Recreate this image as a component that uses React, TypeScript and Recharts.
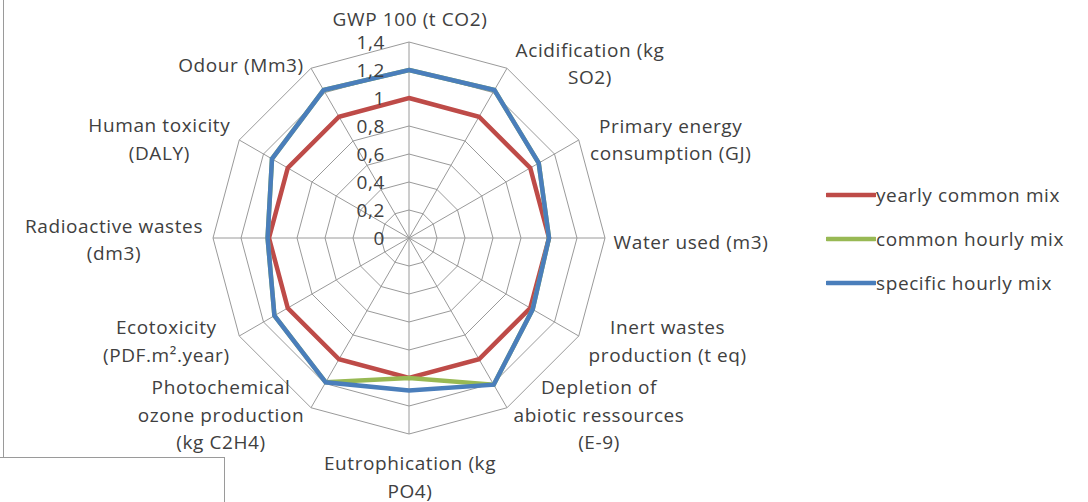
import React from 'react';
import { RadarChart, Radar, PolarGrid, PolarAngleAxis, PolarRadiusAxis, Legend } from 'recharts';

const categories = [
  'GWP 100 (t CO2)',
  'Acidification (kg\nSO2)',
  'Primary energy\nconsumption (GJ)',
  'Water used (m3)',
  'Inert wastes\nproduction (t eq)',
  'Depletion of\nabiotic ressources\n(E-9)',
  'Eutrophication (kg\nPO4)',
  'Photochemical\nozone production\n(kg C2H4)',
  'Ecotoxicity\n(PDF.m\u00b2.year)',
  'Radioactive wastes\n(dm3)',
  'Human toxicity\n(DALY)',
  'Odour (Mm3)',
];

const yearlyCommonMix = [1, 1, 1, 1, 1, 1, 1, 1, 1, 1, 1, 1];
const commonHourlyMix = [1.2, 1.22, 1.07, 1.0, 1.02, 1.21, 1.0, 1.19, 1.11, 1.01, 1.13, 1.22];
const specificHourlyMix = [1.2, 1.22, 1.07, 1.0, 1.02, 1.21, 1.09, 1.19, 1.11, 1.01, 1.13, 1.22];

const radiusTicks = [0, 0.2, 0.4, 0.6, 0.8, 1, 1.2, 1.4];
const radiusTickLabels = ['0', '0,2', '0,4', '0,6', '0,8', '1', '1,2', '1,4'];
const seriesNames = ['yearly common mix', 'common hourly mix', 'specific hourly mix'];
const seriesColors = ['#BE4B48', '#98B954', '#4A7EBB'];

const data = categories.map((c, i) => ({
  category: c,
  yearly: yearlyCommonMix[i],
  common: commonHourlyMix[i],
  specific: specificHourlyMix[i],
}));

const FONT = '"Open Sans", "DejaVu Sans", sans-serif';
const FONT_SIZE = 19;
const LETTER_SP = 0.6;
const TEXT_COLOR = '#404040';
const LINE_H = 27.5;

// label block centre offsets from the angle-axis tick point
const labelOffsets: [number, number][] = [
  [1, -15], [79, 2], [85, 3.5], [78, 4], [82, 1], [88, 0],
  [1, 35], [-86, 0], [-66, 1], [-91, 1.5], [-73, 3], [-66, 4],
];

const AngleTick = (props: any) => {
  const { x, y, payload, index } = props;
  const lines = String(payload.value).split('\n');
  const [dx, dy] = labelOffsets[index] || [0, 0];
  const cxText = x + dx;
  const top = y + dy - ((lines.length - 1) * LINE_H) / 2;
  return (
    <g>
      {lines.map((l, i) => (
        <text
          key={i}
          x={cxText}
          y={top + i * LINE_H}
          textAnchor="middle"
          dominantBaseline="central"
          fontFamily={FONT}
          fontSize={FONT_SIZE}
          letterSpacing={LETTER_SP}
          fill={TEXT_COLOR}
        >
          {l}
        </text>
      ))}
    </g>
  );
};

const RadiusTick = (props: any) => {
  const { x, y, payload } = props;
  const idx = radiusTicks.findIndex((t) => Math.abs(t - Number(payload.value)) < 1e-6);
  const label = idx >= 0 ? radiusTickLabels[idx] : String(payload.value);
  return (
    <text
      x={x - 24}
      y={y}
      textAnchor="end"
      dominantBaseline="central"
      fontFamily={FONT}
      fontSize={FONT_SIZE}
      letterSpacing={LETTER_SP}
      fill={TEXT_COLOR}
    >
      {label}
    </text>
  );
};

const LegendContent = () => (
  <div style={{ fontFamily: FONT, fontSize: FONT_SIZE, color: TEXT_COLOR, letterSpacing: LETTER_SP }}>
    {seriesNames.map((n, i) => (
      <div key={n} style={{ display: 'flex', alignItems: 'center', height: 44 }}>
        <svg width={50} height={8} style={{ display: 'block' }}>
          <line x1={1} y1={4} x2={49} y2={4} stroke={seriesColors[i]} strokeWidth={4.5} strokeLinecap="round" />
        </svg>
        <span style={{ whiteSpace: 'nowrap' }}>{n}</span>
      </div>
    ))}
  </div>
);

export default function App() {
  return (
    <div style={{ position: 'absolute', left: 0, top: 0, width: 1088, height: 502, background: '#fff', overflow: 'hidden' }}>
      <div style={{ position: 'absolute', left: 3, top: 0, width: 1, height: 458, background: '#9a9a9a' }} />
      <div style={{ position: 'absolute', left: 0, top: 457, width: 225, height: 1, background: '#9a9a9a' }} />
      <div style={{ position: 'absolute', left: 224, top: 457, width: 1, height: 45, background: '#9a9a9a' }} />
      <RadarChart
        width={1088}
        height={502}
        data={data}
        cx={409}
        cy={238}
        outerRadius={196}
        margin={{ top: 0, right: 0, bottom: 0, left: 0 }}
        style={{ position: 'absolute', left: 0, top: 0 }}
      >
        <PolarGrid gridType="polygon" stroke="#9a9a9a" strokeWidth={1} />
        <PolarAngleAxis dataKey="category" tick={<AngleTick />} tickLine={false} axisLine={false} />
        <PolarRadiusAxis
          type="number"
          angle={90}
          domain={[0, 1.4]}
          ticks={radiusTicks}
          tickCount={8}
          allowDataOverflow
          axisLine={false}
          tickLine={false}
          tick={<RadiusTick />}
        />
        <Radar name={seriesNames[0]} dataKey="yearly" stroke={seriesColors[0]} strokeWidth={4.5} fill="none" fillOpacity={0} dot={false} isAnimationActive={false} />
        <Radar name={seriesNames[1]} dataKey="common" stroke={seriesColors[1]} strokeWidth={4.5} fill="none" fillOpacity={0} dot={false} isAnimationActive={false} />
        <Radar name={seriesNames[2]} dataKey="specific" stroke={seriesColors[2]} strokeWidth={4.5} fill="none" fillOpacity={0} dot={false} isAnimationActive={false} />
        <Legend
          layout="vertical"
          align="right"
          verticalAlign="top"
          content={<LegendContent />}
          wrapperStyle={{ position: 'absolute', left: 826, top: 173, width: 262 }}
        />
      </RadarChart>
    </div>
  );
}
